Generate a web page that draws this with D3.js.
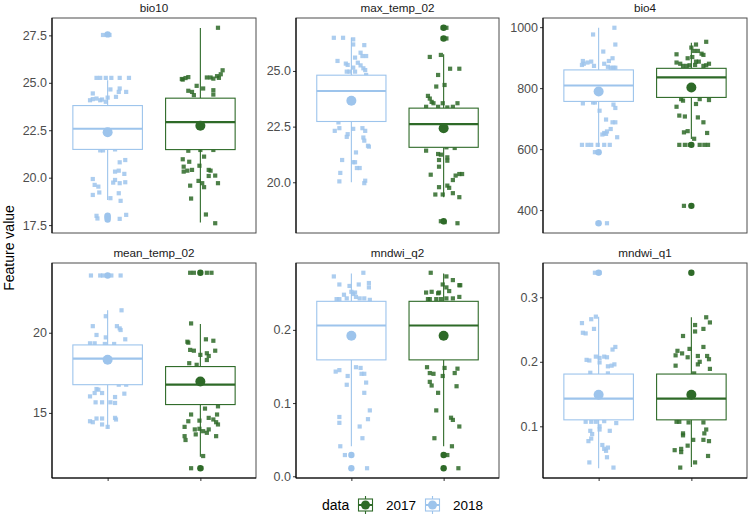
<!DOCTYPE html>
<html><head><meta charset="utf-8">
<script src="https://cdn.jsdelivr.net/npm/d3@7"></script>
<style>body{margin:0;background:#fff;} text{font-family:"Liberation Sans",Arial,Helvetica,sans-serif;}</style>
</head><body><svg id="c" width="750" height="517"></svg>
<script>
const facets = ["bio10","max_temp_02","bio4","mean_temp_02","mndwi_q2","mndwi_q1"];
const groups = ["2018","2017"];
const yTicks = [[17.5,20,22.5,25,27.5],[20,22.5,25],[400,600,800,1000],[15,20],[0,0.1,0.2],[0.1,0.2,0.3]];
const yFormats = [".1f",".1f","d","d",".1f",".1f"];

const whiskerLow2018 = [18.83, 20.0, 607, 14.03, 0.041, 0.035];
const q1_2018 = [21.49, 22.73, 756.5, 16.76, 0.159, 0.110];
const median2018 = [22.58, 24.10, 808.7, 18.39, 0.206, 0.143];
const q3_2018 = [23.80, 24.81, 859.8, 19.24, 0.239, 0.181];
const whiskerHigh2018 = [25.14, 26.49, 998, 21.4, 0.277, 0.270];
const mean2018 = [22.39, 23.66, 789, 18.31, 0.192, 0.149];
const outliers2018 = [[27.55, 18.0, 17.9, 17.8], [], [590, 357], [23.57], [0.029, 0.011], [0.338]];

const whiskerLow2017 = [17.64, 19.33, 633, 12.27, 0.041, 0.037];
const q1_2017 = [21.48, 21.57, 769.6, 15.52, 0.159, 0.110];
const median2017 = [22.93, 22.61, 835, 16.76, 0.206, 0.143];
const q3_2017 = [24.19, 23.33, 865, 17.89, 0.239, 0.181];
const whiskerHigh2017 = [27.89, 25.75, 949, 20.54, 0.277, 0.269];
const mean2017 = [22.74, 22.43, 802, 16.96, 0.192, 0.149];
const outliers2017 = [[], [26.94, 26.46, 18.25], [614, 414], [23.74, 11.55], [0.029, 0.011], [0.338]];

// jittered observations: [horizontal offset in category units, value]
const jitter2018 = [
 [[-0.05,27.52],[0.02,27.52],[-0.12,25.26],[-0.08,25.26],[-0.02,25.26],[0.04,25.26],[0.13,25.26],[0.23,25.26],[-0.16,24.44],[0.03,24.65],[0.13,24.70],[0.12,24.52],[0.20,24.52],[0.09,24.26],[-0.19,24.08],[-0.16,24.14],[-0.12,24.17],[-0.08,24.08],[-0.06,24.12],[-0.02,24.0],[0.0,24.22],[-0.08,21.44],[-0.05,21.44],[0.08,21.49],[0.19,20.93],[0.13,20.81],[0.08,20.32],[0.12,20.37],[0.18,20.20],[-0.16,19.93],[0.08,19.88],[0.13,19.71],[0.06,19.74],[0.19,19.76],[-0.14,19.62],[-0.10,19.53],[-0.09,19.22],[-0.16,19.09],[0.12,19.18],[0.03,18.92],[0.14,18.78],[-0.12,17.99],[-0.11,17.85],[-0.01,17.96],[0.0,17.78],[0.20,18.04],[0.13,17.83]],
 [[-0.19,26.49],[-0.09,26.49],[0.02,26.42],[0.02,26.19],[0.14,26.16],[0.10,25.82],[0.04,25.6],[0.16,25.67],[0.12,25.67],[-0.15,25.45],[-0.06,25.33],[-0.04,25.27],[0.07,25.37],[0.10,25.25],[0.02,25.15],[0.13,25.12],[0.15,25.04],[-0.05,24.97],[-0.02,24.97],[0.04,24.97],[0.16,24.82],[-0.14,22.69],[-0.18,22.31],[-0.13,22.43],[0.02,22.4],[0.12,22.43],[0.15,22.31],[-0.05,22.04],[-0.04,22.16],[0.13,22.01],[0.14,21.87],[0.18,21.64],[0.19,21.6],[0.05,21.34],[-0.10,21.0],[0.02,20.9],[0.04,20.9],[0.06,20.64],[0.09,20.64],[-0.12,20.42],[-0.13,20.04],[0.15,20.07],[0.14,19.96]],
 [[0.17,998],[-0.06,976],[0.18,943],[0.05,920],[0.11,889],[0.15,898],[-0.17,889],[-0.16,880],[-0.12,884],[-0.08,887],[-0.18,876],[-0.05,873],[0.06,880],[0.13,867],[0.16,867],[0.18,867],[0.10,870],[-0.17,750],[-0.06,753],[-0.04,753],[0.16,746],[0.18,735],[0.01,726],[0.08,697],[0.15,688],[0.18,688],[0.13,666],[0.09,658],[0.06,653],[0.04,648],[0.08,650],[0.20,639],[-0.18,614],[-0.12,614],[-0.08,614],[-0.01,614],[0.06,614],[0.12,614],[-0.04,590],[-0.01,590],[-0.01,357],[0.09,357]],
 [[-0.18,23.57],[-0.08,23.57],[-0.05,23.57],[0.04,23.57],[0.14,23.57],[0.15,21.4],[-0.02,21.03],[-0.16,20.41],[0.10,20.41],[0.13,20.27],[0.14,20.17],[-0.12,19.86],[-0.02,19.71],[0.19,19.59],[-0.19,19.34],[-0.14,19.34],[-0.03,19.3],[0.07,19.3],[0.20,16.76],[0.12,16.76],[-0.12,16.49],[-0.14,16.24],[-0.06,16.24],[-0.10,16.45],[0.18,16.2],[-0.19,16.03],[0.08,15.99],[-0.13,15.66],[-0.06,15.66],[0.03,15.66],[0.08,15.62],[-0.19,14.48],[-0.16,14.42],[-0.12,14.65],[-0.06,14.65],[0.08,14.69],[0.09,14.59],[-0.06,14.28],[0.0,14.13]],
 [[-0.19,0.273],[0.13,0.278],[-0.13,0.262],[-0.02,0.260],[0.0,0.252],[0.04,0.251],[0.02,0.249],[0.08,0.262],[0.19,0.264],[0.19,0.258],[0.05,0.245],[0.09,0.243],[0.14,0.243],[-0.08,0.248],[-0.16,0.242],[-0.13,0.242],[-0.05,0.243],[0.20,0.241],[-0.17,0.143],[-0.13,0.145],[-0.04,0.137],[0.05,0.149],[0.10,0.148],[0.11,0.14],[0.14,0.14],[0.16,0.128],[-0.05,0.125],[0.14,0.114],[0.20,0.09],[-0.13,0.081],[-0.13,0.073],[0.18,0.078],[0.09,0.068],[0.12,0.052],[-0.12,0.041],[-0.07,0.029],[0.17,0.011]],
 [[-0.04,0.338],[0.01,0.338],[-0.03,0.27],[-0.18,0.26],[-0.08,0.266],[-0.05,0.251],[-0.13,0.203],[-0.10,0.202],[-0.03,0.208],[0.01,0.206],[0.01,0.199],[0.06,0.208],[0.09,0.207],[0.10,0.193],[0.14,0.194],[0.17,0.196],[0.18,0.223],[0.15,0.219],[-0.17,0.245],[-0.14,0.244],[-0.09,0.183],[0.10,0.182],[-0.14,0.107],[-0.08,0.107],[-0.03,0.107],[0.06,0.108],[0.01,0.1],[0.01,0.095],[-0.09,0.093],[-0.07,0.088],[0.19,0.105],[0.12,0.093],[-0.11,0.077],[-0.08,0.081],[0.04,0.071],[0.06,0.065],[0.08,0.062],[0.10,0.067],[-0.10,0.044],[0.09,0.052],[0.16,0.036]]
];
const jitter2017 = [
 [[0.19,27.9],[-0.20,25.2],[-0.16,25.25],[-0.13,25.3],[-0.19,25.17],[-0.04,24.84],[0.03,24.7],[0.07,25.28],[0.11,25.28],[0.14,25.22],[0.20,25.26],[0.24,25.66],[0.22,25.45],[0.18,25.35],[-0.13,24.58],[-0.09,24.52],[-0.07,24.35],[0.14,24.61],[0.14,24.38],[-0.13,21.42],[0.0,21.46],[0.14,21.46],[0.04,21.11],[-0.19,20.97],[-0.12,20.84],[-0.18,20.58],[-0.18,20.32],[-0.14,20.37],[-0.09,20.41],[-0.01,20.63],[0.09,20.41],[0.11,20.37],[0.16,20.11],[0.09,20.09],[0.19,19.71],[-0.11,19.58],[-0.02,19.83],[0.02,19.71],[0.04,19.50],[-0.10,18.9],[0.06,18.06],[0.16,17.6]],
 [[-0.01,26.94],[0.03,26.94],[-0.01,26.46],[0.03,26.46],[-0.15,25.63],[-0.03,25.72],[0.07,25.1],[0.17,25.1],[-0.06,24.82],[0.01,24.37],[-0.08,24.3],[-0.17,23.88],[-0.15,23.76],[-0.13,23.61],[-0.11,23.55],[-0.01,23.55],[0.15,23.55],[-0.19,23.39],[-0.06,23.39],[0.04,23.36],[0.10,23.39],[-0.19,21.42],[0.12,21.54],[0.03,21.57],[-0.06,21.27],[-0.03,21.24],[0.04,21.12],[-0.05,21.0],[0.04,20.97],[-0.05,20.7],[-0.14,20.34],[0.10,20.1],[0.17,20.37],[0.20,20.37],[0.13,20.3],[-0.05,19.78],[0.04,19.85],[0.06,19.75],[-0.09,19.45],[-0.01,19.45],[0.10,19.51],[0.17,19.33],[-0.03,18.25],[0.01,18.21],[0.15,18.16]],
 [[0.16,952],[0.05,943],[0.0,933],[0.03,922],[0.07,922],[0.11,913],[0.13,909],[-0.16,911],[-0.04,898],[0.01,902],[-0.16,884],[-0.12,880],[0.05,887],[0.08,887],[0.19,880],[0.16,875],[-0.09,873],[-0.05,873],[-0.02,875],[0.04,876],[0.13,873],[-0.11,764],[-0.09,759],[0.09,764],[0.19,761],[0.05,748],[-0.16,739],[-0.13,710],[-0.07,707],[0.07,704],[0.13,688],[-0.08,655],[-0.04,659],[0.17,653],[0.03,634],[-0.13,614],[-0.07,614],[-0.02,614],[0.0,614],[0.09,614],[0.14,614],[0.18,614],[-0.08,414],[0.0,414]],
 [[-0.11,23.74],[-0.07,23.74],[0.0,23.74],[0.07,23.74],[0.12,23.74],[-0.10,20.58],[-0.14,19.44],[-0.13,19.38],[-0.11,18.93],[-0.07,18.88],[0.06,19.59],[0.14,19.5],[0.16,18.88],[0.07,18.72],[0.09,18.55],[0.0,18.62],[0.07,18.3],[-0.12,18.1],[-0.04,18.0],[0.19,15.41],[0.18,14.9],[-0.10,14.9],[0.05,15.27],[-0.13,14.48],[-0.01,14.52],[0.09,14.69],[0.14,14.59],[0.17,14.42],[0.19,14.28],[-0.17,14.13],[-0.06,13.97],[-0.01,14.01],[0.03,13.86],[0.09,13.97],[0.07,13.76],[-0.05,13.66],[-0.17,13.55],[-0.16,13.31],[0.17,13.55],[0.03,12.31],[-0.10,11.55],[0.01,11.55]],
 [[-0.14,0.278],[0.03,0.273],[0.10,0.268],[0.17,0.261],[0.18,0.261],[-0.01,0.262],[-0.19,0.251],[-0.13,0.252],[-0.06,0.25],[-0.05,0.251],[0.03,0.258],[0.06,0.253],[0.17,0.245],[-0.17,0.242],[-0.15,0.242],[-0.08,0.242],[-0.03,0.242],[0.03,0.243],[0.10,0.243],[-0.18,0.149],[-0.15,0.141],[-0.11,0.14],[-0.01,0.137],[0.01,0.148],[0.12,0.141],[0.15,0.147],[-0.15,0.129],[-0.13,0.124],[-0.06,0.114],[0.14,0.123],[-0.08,0.09],[-0.10,0.052],[0.08,0.08],[0.10,0.077],[0.17,0.068],[0.09,0.041],[0.04,0.029],[0.16,0.011]],
 [[0.0,0.338],[0.16,0.269],[0.20,0.261],[0.04,0.257],[0.04,0.247],[0.13,0.251],[-0.09,0.24],[0.13,0.223],[-0.02,0.22],[-0.15,0.217],[-0.10,0.213],[-0.17,0.21],[-0.04,0.207],[0.07,0.209],[0.17,0.209],[0.19,0.204],[0.09,0.2],[0.07,0.196],[-0.17,0.194],[0.20,0.189],[0.03,0.182],[-0.16,0.107],[-0.13,0.107],[-0.03,0.106],[0.13,0.106],[-0.09,0.089],[-0.09,0.086],[0.02,0.079],[0.16,0.095],[0.14,0.089],[0.13,0.079],[0.19,0.077],[-0.18,0.063],[-0.11,0.065],[-0.11,0.06],[-0.04,0.07],[0.18,0.054],[0.04,0.044],[-0.12,0.036]]
];

const colors = {"2018":"#9dc4ec","2017":"#2e6a28"};
const panelX = [[52,256],[296,499],[543,747]];
const panelY = [[18,233],[263,478]];

const svg = d3.select("#c");

const stats = {
  "2018": {lo:whiskerLow2018,q1:q1_2018,med:median2018,q3:q3_2018,hi:whiskerHigh2018,mean:mean2018,out:outliers2018,pts:jitter2018},
  "2017": {lo:whiskerLow2017,q1:q1_2017,med:median2017,q3:q3_2017,hi:whiskerHigh2017,mean:mean2017,out:outliers2017,pts:jitter2017}
};

facets.forEach((name,i)=>{
  const col = i%3, row = Math.floor(i/3);
  const [x0,x1] = panelX[col], [y0,y1] = panelY[row];
  const x = d3.scalePoint().domain(groups).range([x0,x1]).padding(0.6);
  const step = x.step();
  let vals = [];
  groups.forEach(g=>{const s=stats[g]; vals.push(s.lo[i],s.hi[i],s.mean[i],...s.out[i],...s.pts[i].map(p=>p[1]));});
  const ext = d3.extent(vals), pad=(ext[1]-ext[0])*0.05;
  const y = d3.scaleLinear().domain([ext[0]-pad, ext[1]+pad]).range([y1,y0]);
  const g = svg.append("g");
  g.append("rect").attr("x",x0).attr("y",y0).attr("width",x1-x0).attr("height",y1-y0)
    .attr("fill","#fff").attr("stroke","#4d4d4d").attr("stroke-width",1);
  // strip title
  g.append("text").attr("x",(x0+x1)/2).attr("y",y0-6).attr("text-anchor","middle")
    .attr("font-size",11.7).attr("fill","#1a1a1a").text(name);
  const bw = step*0.75;
  groups.forEach(grp=>{
    const s = stats[grp], c = colors[grp], cx = x(grp);
    g.selectAll(null).data(s.pts[i]).enter().append("rect")
      .attr("x",d=>cx+d[0]*step-2.1).attr("y",d=>y(d[1])-2.1).attr("width",4.2).attr("height",4.2)
      .attr("fill",c).attr("opacity",0.85);
  });
  groups.forEach(grp=>{
    const s = stats[grp], c = colors[grp], cx = x(grp);
    g.append("line").attr("x1",cx).attr("x2",cx).attr("y1",y(s.hi[i])).attr("y2",y(s.q3[i])).attr("stroke",c).attr("stroke-width",1.1);
    g.append("line").attr("x1",cx).attr("x2",cx).attr("y1",y(s.q1[i])).attr("y2",y(s.lo[i])).attr("stroke",c).attr("stroke-width",1.1);
    g.append("rect").attr("x",cx-bw/2).attr("width",bw).attr("y",y(s.q3[i])).attr("height",y(s.q1[i])-y(s.q3[i]))
      .attr("fill","#fff").attr("stroke",c).attr("stroke-width",1.1);
    g.append("line").attr("x1",cx-bw/2).attr("x2",cx+bw/2).attr("y1",y(s.med[i])).attr("y2",y(s.med[i])).attr("stroke",c).attr("stroke-width",2.2);
    g.selectAll(null).data(s.out[i]).enter().append("circle")
      .attr("cx",cx).attr("cy",d=>y(d)).attr("r",3.2).attr("fill",c);
    g.append("circle").attr("cx",cx).attr("cy",y(s.mean[i])).attr("r",5).attr("fill",c);
  });
  const ay = g.append("g").attr("transform",`translate(${x0},0)`)
    .call(d3.axisLeft(y).tickValues(yTicks[i]).tickFormat(d3.format(yFormats[i])).tickSize(3).tickPadding(2));
  ay.select(".domain").remove();
  ay.selectAll("line").attr("stroke","#333");
  ay.selectAll("text").attr("font-size",12.5).attr("fill","#4d4d4d").attr("font-family","Liberation Sans, Arial, sans-serif");
  g.append("line").attr("x1",x0).attr("x2",x0).attr("y1",y0).attr("y2",y1).attr("stroke","#000").attr("stroke-width",1.1);
  if(row===1){
    const ax = g.append("g").attr("transform",`translate(0,${y1})`)
      .call(d3.axisBottom(x).tickSize(3).tickFormat(""));
    ax.select(".domain").remove();
    ax.selectAll("line").attr("stroke","#333");
    g.append("line").attr("x1",x0).attr("x2",x1).attr("y1",y1).attr("y2",y1).attr("stroke","#000").attr("stroke-width",1.1);
  }
});

svg.append("text").attr("transform","translate(14,248) rotate(-90)").attr("text-anchor","middle")
  .attr("font-size",14).attr("fill","#000").text("Feature value");

const legend = svg.append("g");
legend.append("text").attr("x",322).attr("y",510).attr("font-size",14).attr("fill","#000").text("data");
const legItems = [["2017",358],["2018",425]];
legItems.forEach(([grp,lx])=>{
  const c = colors[grp];
  const cx = lx+7.5, cy = 505;
  legend.append("line").attr("x1",cx).attr("x2",cx).attr("y1",cy-9).attr("y2",cy+9).attr("stroke",c).attr("stroke-width",1.1);
  legend.append("rect").attr("x",lx+0.5).attr("y",cy-6).attr("width",14).attr("height",12).attr("fill","#fff").attr("stroke",c).attr("stroke-width",1.1);
  legend.append("line").attr("x1",lx+0.5).attr("x2",lx+14.5).attr("y1",cy).attr("y2",cy).attr("stroke",c).attr("stroke-width",2);
  legend.append("circle").attr("cx",cx).attr("cy",cy).attr("r",4.5).attr("fill",c);
  legend.append("text").attr("x",lx+28).attr("y",510).attr("font-size",13.5).attr("fill","#000").text(grp);
});
</script></body></html>
